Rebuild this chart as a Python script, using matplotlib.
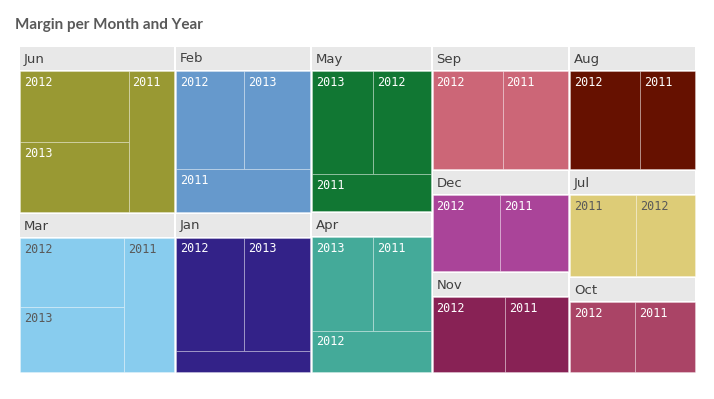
"""Margin per Month and Year -- squarified treemap, months grouped with a header strip."""
import matplotlib
matplotlib.use("Agg")
import matplotlib.pyplot as plt
from matplotlib.patches import Rectangle


# %% data ---------------------------------------------------------------------
MONTHS = ["Jan", "Feb", "Mar", "Apr", "May", "Jun",
          "Jul", "Aug", "Sep", "Oct", "Nov", "Dec"]
YEARS = [2011, 2012, 2013]
# margin per month (k), 0 = no data for that year
MARGIN_2011 = [33, 67, 79, 63, 52, 75, 70, 68, 80, 57, 63, 68]
MARGIN_2012 = [91, 78, 84, 58, 69, 90, 62, 86, 86, 61, 72, 68]
MARGIN_2013 = [88, 76, 79, 67, 74, 89, 0, 0, 0, 0, 0, 0]

MONTH_COLORS = ["#332288", "#6699cc", "#88ccee", "#44aa99", "#117733", "#999933",
                "#ddcc77", "#661100", "#cc6677", "#aa4466", "#882255", "#aa4499"]
LIGHT_MONTHS = {"Mar", "Jul"}   # dark label text on these

TITLE = "Margin per Month and Year"


# %% squarify ------------------------------------------------------------------
def _worst(row, side):
    s = sum(row)
    return max(max(side * side * r / (s * s), (s * s) / (side * side * r)) for r in row)


def squarify(sizes, x, y, w, h):
    """sizes sorted descending; returns list of (x, y, w, h), y grows downward."""
    total = float(sum(sizes))
    vals = [v * w * h / total for v in sizes]
    rects = []
    while vals:
        side = min(w, h)
        row = [vals[0]]
        i = 1
        while i < len(vals) and _worst(row + [vals[i]], side) <= _worst(row, side):
            row.append(vals[i])
            i += 1
        vals = vals[i:]
        s = sum(row)
        if h >= 0.97 * w:   # (near-)square or tall: horizontal strip along the top
            rh = s / w
            cx = x
            for r in row:
                rects.append((cx, y, r / rh, rh))
                cx += r / rh
            y += rh
            h -= rh
        else:               # wide: vertical strip on the left
            rw = s / h
            cy = y
            for r in row:
                rects.append((x, cy, rw, r / rw))
                cy += r / rw
            x += rw
            w -= rw
    return rects


# %% plot ------------------------------------------------------------------------
W, H = 714, 399
fig = plt.figure(figsize=(W / 100, H / 100), dpi=100)
ax = fig.add_axes([0, 0, 1, 1])
ax.set_xlim(0, W)
ax.set_ylim(H, 0)
ax.axis("off")

fig.text(15 / W, 1 - 25 / H, TITLE, fontsize=11, fontweight="bold",
         color="#595959", family="Lato", va="center", ha="left")

by_year = dict(zip(YEARS, [MARGIN_2011, MARGIN_2012, MARGIN_2013]))
month_tot = [sum(by_year[yr][i] for yr in YEARS) for i in range(len(MONTHS))]
order = sorted(range(len(MONTHS)), key=lambda i: -month_tot[i])

AREA = (19, 46, 677, 327)
HEAD = 24
group_rects = squarify([month_tot[i] for i in order], *AREA)

for i, (gx, gy, gw, gh) in zip(order, group_rects):
    gx, gy, gw, gh = gx + 1, gy + 1, gw - 2, gh - 2
    ax.add_patch(Rectangle((gx, gy), gw, HEAD - 1, facecolor="#e8e8e8",
                           edgecolor="none"))
    ax.text(gx + 4, gy + HEAD / 2, MONTHS[i], fontsize=9.5, color="#404040",
            va="center", ha="left")

    items = [(yr, by_year[yr][i]) for yr in YEARS if by_year[yr][i] > 0]
    items.sort(key=lambda t: (-t[1], -t[0]))
    cells = squarify([v for _, v in items], gx, gy + HEAD, gw, gh - HEAD)
    txt_col = "#595959" if MONTHS[i] in LIGHT_MONTHS else "white"
    for (yr, v), (cx, cy, cw, ch) in zip(items, cells):
        ax.add_patch(Rectangle((cx, cy), cw, ch, facecolor=MONTH_COLORS[i],
                               edgecolor=(1, 1, 1, 0.3), linewidth=0.7))
        if ch >= 28 and cw >= 36:
            ax.text(cx + 4, cy + 11, str(yr), fontsize=8.5, color=txt_col,
                    family="DejaVu Sans Mono", va="center", ha="left")

fig.savefig("out.png", dpi=100)
